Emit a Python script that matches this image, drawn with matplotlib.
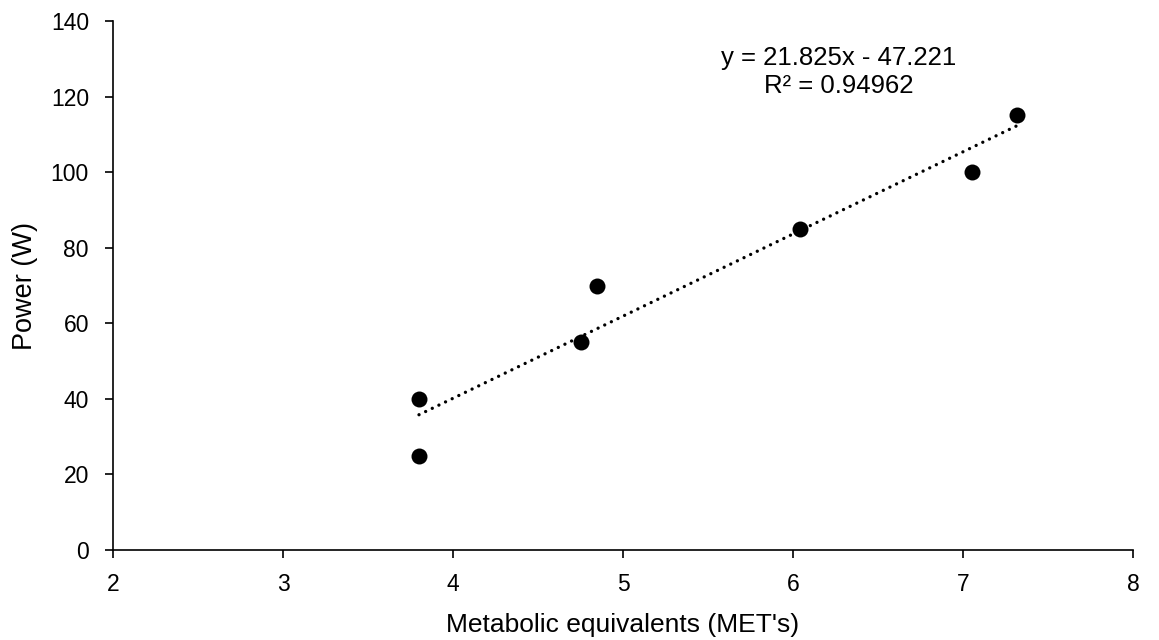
import matplotlib
matplotlib.use("Agg")
import matplotlib.pyplot as plt
import numpy as np

mets = [3.80, 3.80, 4.75, 4.85, 6.04, 7.05, 7.32]
power = [40, 25, 55, 70, 85, 100, 115]
x_ticks = [2, 3, 4, 5, 6, 7, 8]
y_ticks = [0, 20, 40, 60, 80, 100, 120, 140]
eq_text = "y = 21.825x - 47.221\nR\u00b2 = 0.94962"

plt.rcParams['font.family'] = ['Liberation Sans', 'DejaVu Sans']

fig = plt.figure(figsize=(11.59, 6.4), dpi=100)
ax = fig.add_axes([113/1159, 1 - 550/640, (1133 - 113)/1159, (550 - 21)/640])

ax.scatter(mets, power, s=11.5**2, color='black', zorder=3, linewidths=0)

slope, intercept = np.polyfit(mets, power, 1)
xs = np.array([min(mets), max(mets)])
line, = ax.plot(xs, slope * xs + intercept, color='black', linewidth=2.4,
                dash_capstyle='round', zorder=2)
line.set_dashes((0.01, 2.2))

ax.set_xlim(2, 8)
ax.set_ylim(0, 140)
ax.set_xticks(x_ticks)
ax.set_yticks(y_ticks)
ax.tick_params(axis='both', labelsize=16.5, direction='out', length=5.8, width=1.2, color='black')
ax.tick_params(axis='x', pad=10.5)
ax.tick_params(axis='y', pad=11.5)
for side in ['top', 'right']:
    ax.spines[side].set_visible(False)
for side in ['left', 'bottom']:
    ax.spines[side].set_linewidth(1.2)
    ax.spines[side].set_color('black')

ax.set_xlabel("Metabolic equivalents (MET's)", fontsize=19, labelpad=12.5)
ax.set_ylabel("Power (W)", fontsize=19.5, labelpad=9)

ax.text(6.27, 126.6, eq_text, ha='center', va='center', fontsize=18.5, linespacing=1.2)

fig.savefig("out.png", dpi=100)
